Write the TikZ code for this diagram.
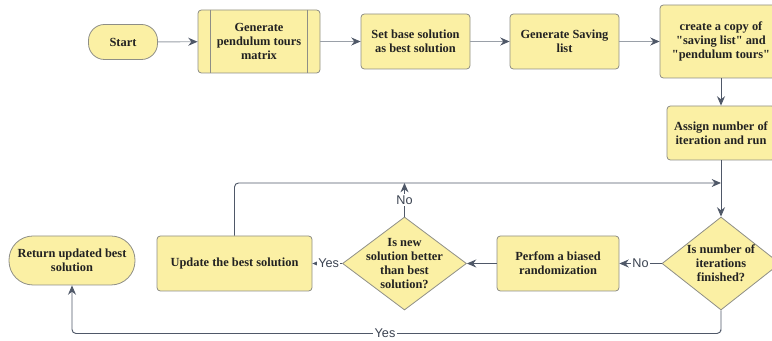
\documentclass[tikz,border=0pt]{standalone}
\usepackage{fontspec}
\setmainfont{Liberation Serif}
\setsansfont{Liberation Sans}
\usetikzlibrary{shapes.geometric,arrows.meta}
\definecolor{boxfill}{HTML}{FBF0A4}
\definecolor{boxline}{HTML}{8E8E86}
\definecolor{lnk}{HTML}{4F5868}
\definecolor{lnklight}{HTML}{9AA0A8}
\definecolor{txtc}{HTML}{222222}
\definecolor{labc}{HTML}{3A4250}
\newcommand{\dq}{\textquotedbl{}}
\tikzset{
  box/.style={draw=boxline, fill=boxfill, rounded corners=2.5pt, line width=0.6pt,
    align=center, font=\bfseries\fontsize{9.3}{10.5}\selectfont, text=txtc, inner sep=1pt},
  term/.style={box, rounded corners=12pt},
  dia/.style={draw=boxline, fill=boxfill, diamond, line width=0.6pt, inner sep=0pt},
  ttxt/.style={align=center, font=\bfseries\fontsize{9.3}{10.5}\selectfont, text=txtc, inner sep=0pt},
  conn/.style={draw=lnk, line width=0.7pt, -{Stealth[length=7pt,width=6pt]}},
  connl/.style={draw=lnklight, line width=0.7pt, -{Stealth[length=7pt,width=6pt,color=lnk]}},
  lab/.style={font=\sffamily\fontsize{9.5}{10}\selectfont, text=labc, fill=white, inner sep=1pt}
}
\begin{document}
\begin{tikzpicture}[x=0.75pt,y=-0.75pt]
\useasboundingbox (0,0) rectangle (772,341);
\begin{scope}
\clip (0,0) rectangle (772,341);
% top row
\node[term, minimum width=51.75pt, minimum height=26.25pt] (start) at (123,42) {Start};
\node[box, minimum width=91.5pt, minimum height=47.25pt] (gen) at (259,41.5) {Generate\\pendulum tours\\matrix};
\draw[boxline, line width=0.6pt] (210,10) -- (210,73) (307,10) -- (307,73);
\node[box, minimum width=81.75pt, minimum height=41.25pt] (base) at (415.5,41.5) {Set base solution\\as best solution};
\node[box, minimum width=81.75pt, minimum height=41.25pt] (sav) at (564.5,41.5) {Generate Saving\\list};
\node[box, minimum width=91.5pt, minimum height=54.75pt] (copy) at (721,41.5) {create a copy of\\\dq saving list\dq{} and\\\dq pendulum tours\dq};
\node[box, minimum width=81pt, minimum height=40.5pt] (assign) at (721,133) {Assign number of\\iteration and run};
% decisions and bottom row
\node[dia, minimum width=88.5pt, minimum height=69.75pt] (d1) at (721,263.5) {};
\node[ttxt] at (d1.center) {Is number of\\iterations\\finished?};
\node[box, minimum width=91.5pt, minimum height=41.25pt] (perf) at (558,263.5) {Perfom a biased\\randomization};
\node[dia, minimum width=93pt, minimum height=69.75pt] (d2) at (404.5,263.5) {};
\node[ttxt] at (d2.center) {Is new\\solution better\\than best\\solution?};
\node[box, minimum width=116.25pt, minimum height=41.25pt] (upd) at (234.5,263.5) {Update the best solution};
\node[term, minimum width=94.5pt, minimum height=36.75pt, rounded corners=18pt] (ret) at (72,260.5) {Return updated best\\solution};
\coordinate (j) at (721,183);
\coordinate (jn) at (404.5,183);
\coordinate (bot) at (721,333.5);
% connectors
\draw[connl] (start) -- (gen);
\draw[connl] (gen) -- (base);
\draw[connl] (base) -- (sav);
\draw[connl] (sav) -- (copy);
\draw[conn] (copy) -- (assign);
\draw[conn] (assign) -- (d1);
\draw[conn, rounded corners=3pt] (upd.north) |- (j);
\draw[conn] (d2.north) -- (jn) node[lab, pos=0.5] {No};
\draw[conn] (d1.west) -- (perf.east) node[lab, pos=0.5] {No};
\draw[conn] (perf.west) -- (d2.east);
\draw[conn] (d2.west) -- (upd.east) node[lab, pos=0.45] {Yes};
\draw[conn, rounded corners=3pt] (d1.south) |- (bot) -| (ret.south);
\node[lab, inner ysep=0.3pt] at (385,333.5) {Yes};
\end{scope}
\end{tikzpicture}
\end{document}
